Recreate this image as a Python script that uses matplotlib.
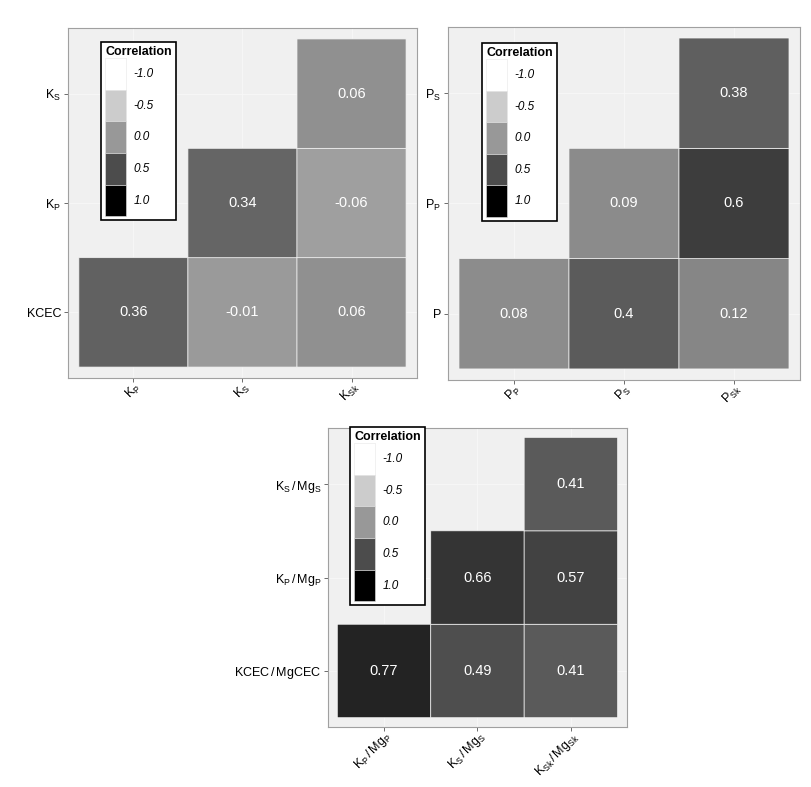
import numpy as np
import matplotlib.pyplot as plt
from matplotlib.colors import LinearSegmentedColormap, Normalize
from matplotlib.patches import Patch

plt.rcParams['font.family'] = 'Liberation Sans'
plt.rcParams['mathtext.fontset'] = 'custom'
plt.rcParams['mathtext.rm'] = 'Liberation Sans'
plt.rcParams['mathtext.it'] = 'Liberation Sans:italic'
plt.rcParams['mathtext.bf'] = 'Liberation Sans:bold'

# panel 1: K
k_x = [r'$\mathrm{K_P}$', r'$\mathrm{K_S}$', r'$\mathrm{K_{Sk}}$']
k_y = ['KCEC', r'$\mathrm{K_P}$', r'$\mathrm{K_S}$']
k_r = [[0.36, -0.01, 0.06],
       [np.nan, 0.34, -0.06],
       [np.nan, np.nan, 0.06]]

# panel 2: P
p_x = [r'$\mathrm{P_P}$', r'$\mathrm{P_S}$', r'$\mathrm{P_{Sk}}$']
p_y = ['P', r'$\mathrm{P_P}$', r'$\mathrm{P_S}$']
p_r = [[0.08, 0.4, 0.12],
       [np.nan, 0.09, 0.6],
       [np.nan, np.nan, 0.38]]

# panel 3: K/Mg ratios
km_x = [r'$\mathrm{K_P\,/\,Mg_P}$', r'$\mathrm{K_S\,/\,Mg_S}$', r'$\mathrm{K_{Sk}\,/\,Mg_{Sk}}$']
km_y = [r'$\mathrm{KCEC\,/\,MgCEC}$', r'$\mathrm{K_P\,/\,Mg_P}$', r'$\mathrm{K_S\,/\,Mg_S}$']
km_r = [[0.77, 0.49, 0.41],
        [np.nan, 0.66, 0.57],
        [np.nan, np.nan, 0.41]]

legend_vals = [-1.0, -0.5, 0.0, 0.5, 1.0]

cmap = LinearSegmentedColormap.from_list('corr', [(0, 'white'), (0.5, '#999999'), (1, 'black')])
norm = Normalize(-1, 1)

fig = plt.figure(figsize=(8.12, 7.87), dpi=100)


def draw_panel(rect, r, xlabels, ylabels, anchor):
    ax = fig.add_axes(rect)
    ax.set_facecolor('#f0f0f0')
    r = np.array(r)
    edges = np.arange(0.5, 4.0, 1.0)
    # pcolor leaves the masked (empty) cells out completely
    ax.pcolor(edges, edges, np.ma.masked_invalid(r), cmap=cmap, norm=norm,
              edgecolors='#f4f4f4', linewidth=0.5)
    for i in range(r.shape[0]):
        for j in range(r.shape[1]):
            if not np.isnan(r[i, j]):
                ax.text(j + 1, i + 1, f'{r[i, j]:g}', color='white',
                        ha='center', va='center', fontsize=10.5)
    ax.set_xlim(0.4, 3.6)
    ax.set_ylim(0.4, 3.6)
    ax.set_xticks([1, 2, 3])
    ax.set_yticks([1, 2, 3])
    ax.set_xticklabels(xlabels, rotation=45, ha='right', va='top', rotation_mode='anchor')
    ax.set_yticklabels(ylabels)
    ax.tick_params(length=3, color='#555555', width=0.6, labelsize=9, pad=2)
    ax.tick_params(axis='x', pad=-1.5)
    ax.grid(color='#f8f8f8', lw=0.6)
    ax.set_axisbelow(True)
    for s in ax.spines.values():
        s.set_color('#a0a0a0')
        s.set_linewidth(0.8)
    handles = [Patch(facecolor=cmap(norm(v)), edgecolor='#e6e6e6', lw=0.4) for v in legend_vals]
    labels = [f'{v:.1f}' for v in legend_vals]
    leg = ax.legend(handles, labels, title='Correlation', loc='upper left',
                    bbox_to_anchor=anchor, borderaxespad=0, frameon=True,
                    fancybox=False, edgecolor='black', framealpha=1,
                    labelspacing=0, handlelength=1.78, handleheight=3.74,
                    handletextpad=0.6, borderpad=0.35,
                    prop={'style': 'italic', 'size': 8.5},
                    title_fontproperties={'weight': 'bold', 'size': 9},
                    alignment='left')
    leg.get_frame().set_linewidth(1.2)
    return ax


draw_panel([0.0837, 0.5197, 0.4298, 0.4447], k_r, k_x, k_y, (0.095, 0.96))
draw_panel([0.5517, 0.5172, 0.4335, 0.4485], p_r, p_x, p_y, (0.097, 0.955))
draw_panel([0.4039, 0.0762, 0.3682, 0.3799], km_r, km_x, km_y, (0.074, 1.003))

fig.savefig('out.png', dpi=100)
